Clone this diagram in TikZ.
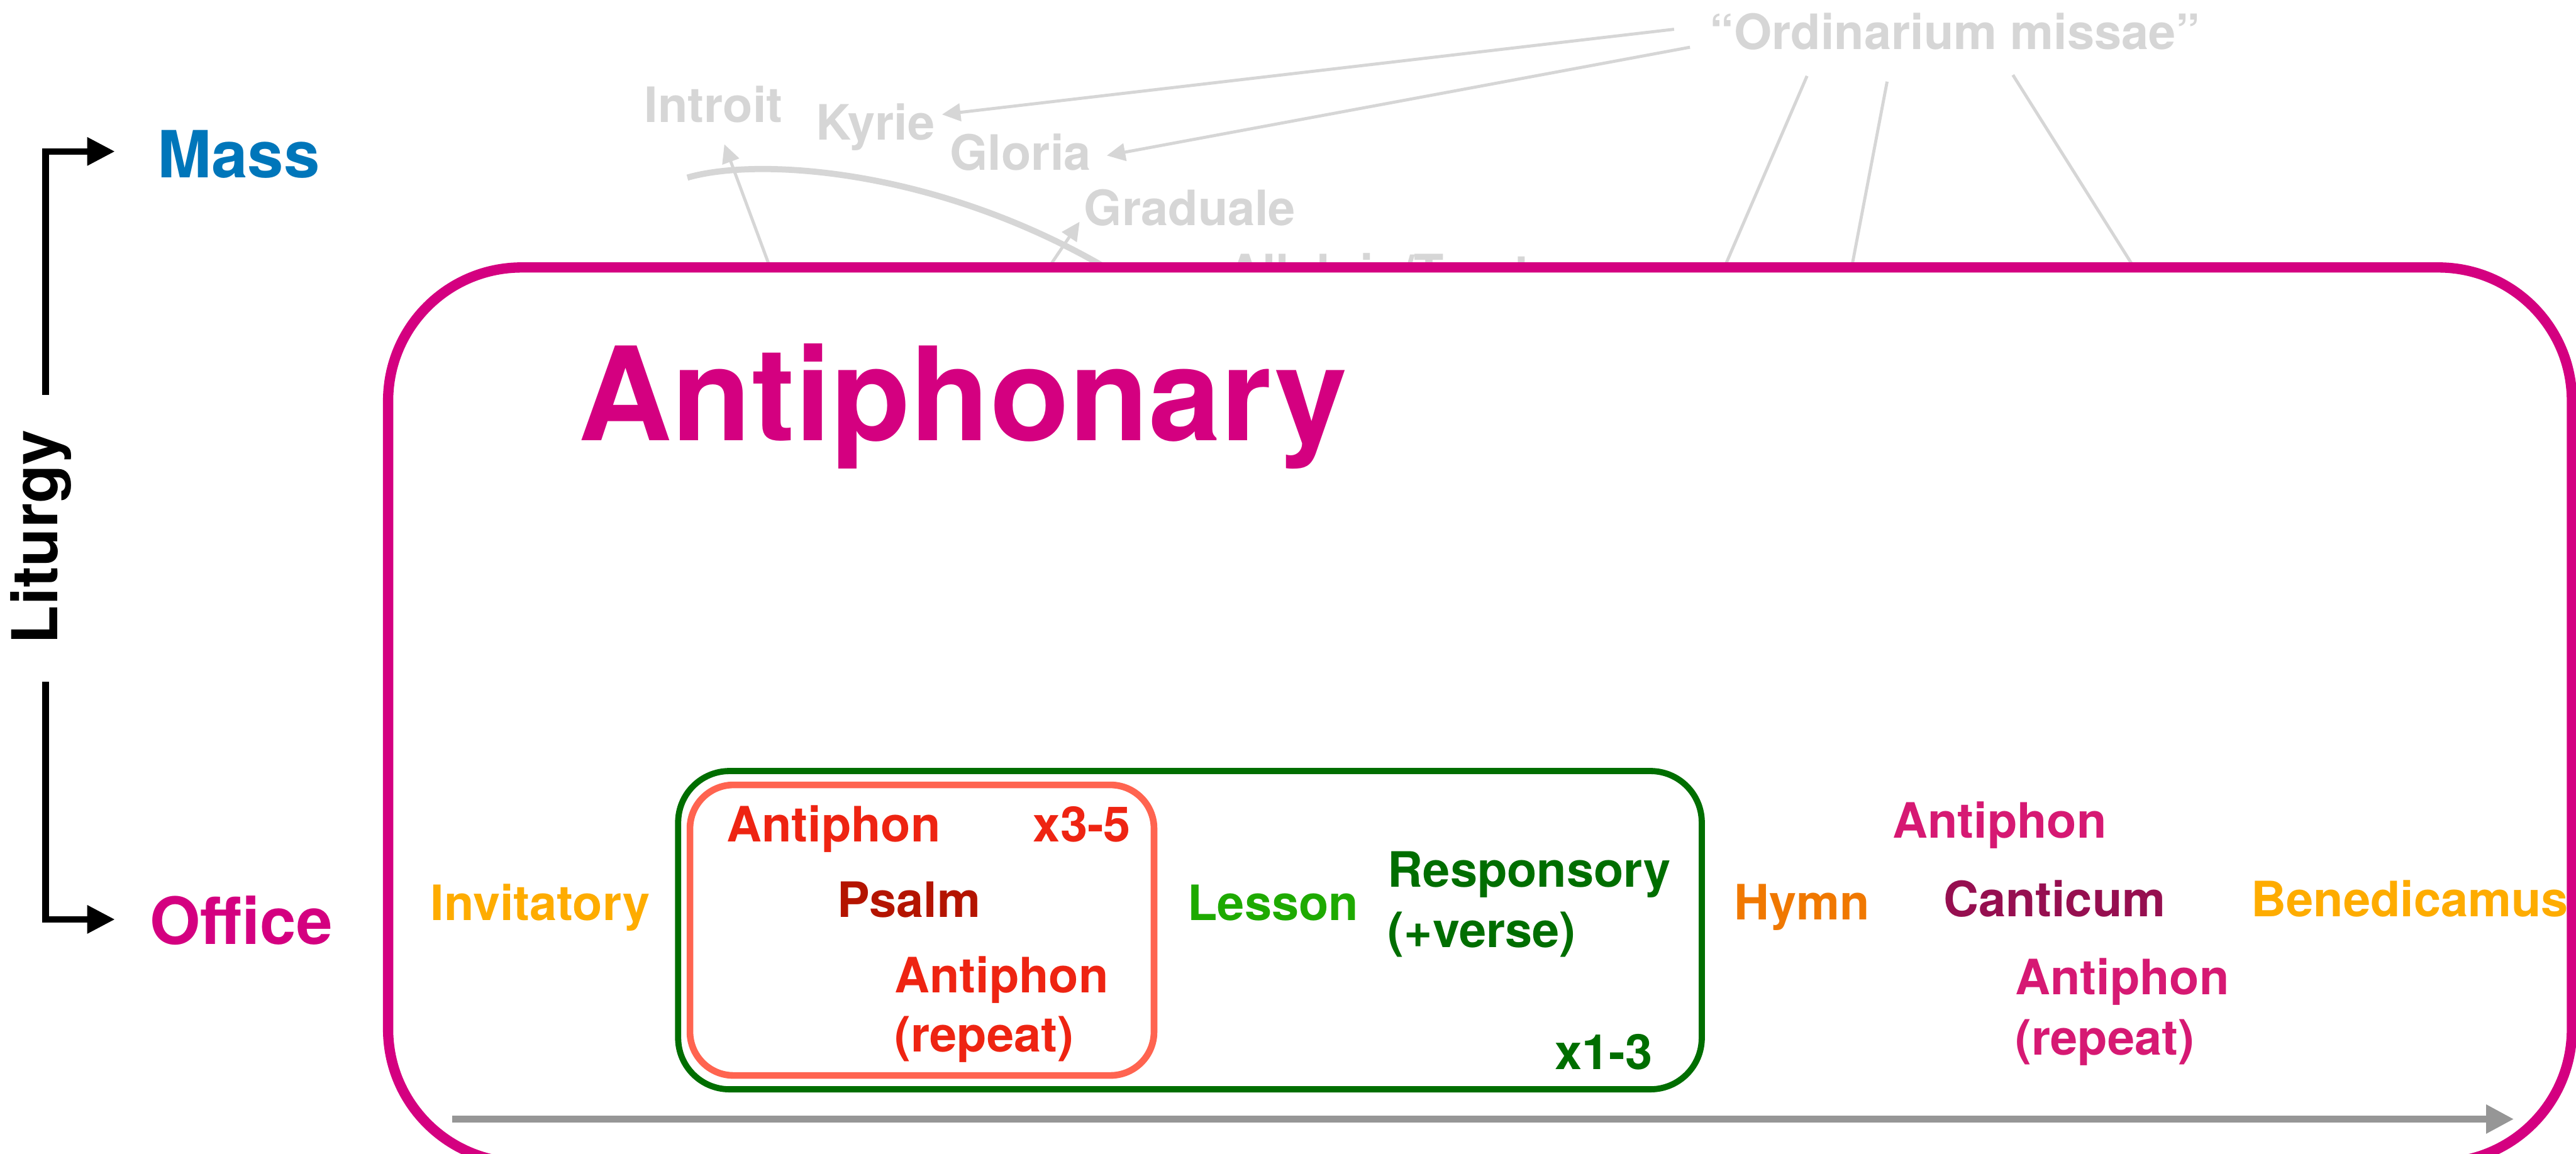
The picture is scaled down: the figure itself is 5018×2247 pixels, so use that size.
\documentclass[tikz,border=0pt]{standalone}
\usepackage{fontspec}
\setmainfont{TeX Gyre Heros}
\usetikzlibrary{arrows.meta}

\definecolor{antimag}{RGB}{212,0,128}
\definecolor{massblue}{RGB}{0,118,186}
\definecolor{ghost}{RGB}{214,214,214}
\definecolor{invyellow}{RGB}{254,172,0}
\definecolor{antred}{RGB}{238,36,18}
\definecolor{psalmred}{RGB}{180,20,0}
\definecolor{coral}{RGB}{255,100,80}
\definecolor{lessongreen}{RGB}{30,170,0}
\definecolor{dkgreen}{RGB}{0,110,0}
\definecolor{hymnorange}{RGB}{240,120,0}
\definecolor{pinkant}{RGB}{214,25,115}
\definecolor{canticum}{RGB}{150,15,80}
\definecolor{timegray}{RGB}{150,150,150}

\begin{document}
\begin{tikzpicture}[x=0.01cm, y=-0.01cm,
  lbl/.style={inner sep=0pt, anchor=base west, font=\fontsize{27}{33}\selectfont\bfseries},
  biglbl/.style={inner sep=0pt, anchor=base west, font=\fontsize{36}{43}\selectfont\bfseries},
  greylbl/.style={lbl, text=ghost},
  greyline/.style={draw=ghost, line width=1.7pt},
  greyarrow/.style={greyline, -{Triangle[length=0.36cm, width=0.34cm]}},
  blackarrow/.style={draw=black, line width=0.13cm, -{Triangle[length=0.54cm, width=0.52cm]}},
  timearrow/.style={draw=timegray, line width=0.14cm, -{Triangle[length=0.54cm, width=0.53cm]}}
]
\useasboundingbox (0,0) rectangle (5018,2247);
\fill[white] (0,0) rectangle (5018,2247);

% ---- Mass items (faded, partly hidden by the antiphonary panel) ----
\node[greylbl] (introit)    at (1255,238) {Introit};
\node[greylbl] (kyrie)      at (1589,273) {Kyrie};
\node[greylbl] (gloria)     at (1850,331) {Gloria};
\node[greylbl] (graduale)   at (2111,439) {Graduale};
\node[greylbl] (alleluia)   at (2390,564) {Alleluia/Tract};
\node[greylbl] (ordinarium) at (3330,96)  {“Ordinarium missae”};

\coordinate (ordK) at (3261,57);
\coordinate (kyrieTip) at (1835,223);
\coordinate (ordG) at (3292,92);
\coordinate (gloriaTip) at (2156,303);
\draw[greyarrow] (ordK) -- (kyrieTip);
\draw[greyarrow] (ordG) -- (gloriaTip);

\coordinate (ordA) at (3520,148);  \coordinate (credoIn)   at (3359,521);
\coordinate (ordB) at (3676,159);  \coordinate (sanctusIn) at (3607,521);
\coordinate (ordC) at (3921,146);  \coordinate (agnusIn)   at (4157,521);
\draw[greyline] (ordA) -- (credoIn);
\draw[greyline] (ordB) -- (sanctusIn);
\draw[greyline] (ordC) -- (agnusIn);

\coordinate (introitFrom) at (1500,521);
\coordinate (introitTip)  at (1411,281);
\draw[greyarrow] (introitFrom) -- (introitTip);
\coordinate (gradFrom) at (2043,521);
\coordinate (gradTip)  at (2103,432);
\draw[greyarrow] (gradFrom) -- (gradTip);

\coordinate (arcStart) at (1339,346);
\coordinate (arcEnd)   at (2160,525);
\draw[draw=ghost, line width=3.4pt] (arcStart) .. controls (1480,305) and (1830,330) .. (arcEnd);

% ---- Antiphonary panel ----
\draw[draw=antimag, fill=white, line width=0.2cm, rounded corners=2.6cm]
  (756,521) rectangle (5010,2265);
\node[inner sep=0pt, anchor=base west, font=\fontsize{72}{86}\selectfont\bfseries, text=antimag]
  (antiphonary) at (1126,858) {Antiphonary};

% ---- Liturgy axis ----
\node[inner sep=0pt, anchor=base, rotate=90, font=\fontsize{35}{42}\selectfont\bfseries]
  (liturgy) at (112,1046) {Liturgy};
\node[biglbl, text=massblue] (mass)   at (306,346)  {Mass};
\node[biglbl, text=antimag]  (office) at (291,1840) {Office};
\coordinate (litTop) at (89,769);
\coordinate (massIn) at (224,295);
\coordinate (litBot) at (89,1328);
\coordinate (officeIn) at (224,1791);
\draw[blackarrow] (litTop) |- (massIn);
\draw[blackarrow] (litBot) |- (officeIn);

% ---- Office hour sequence ----
\draw[draw=dkgreen, line width=0.12cm, rounded corners=1cm] (1321,1502) rectangle (3315,2122);
\draw[draw=coral, line width=0.13cm, rounded corners=0.85cm] (1344,1529) rectangle (2248,2095);

\node[lbl, text=invyellow]   (invitatory) at (838,1793)  {Invitatory};
\node[lbl, text=antred]      (antA)       at (1415,1640) {Antiphon};
\node[lbl, text=antred]      (rep35)      at (2012,1640) {x3-5};
\node[lbl, text=psalmred]    (psalm)      at (1630,1787) {Psalm};
\node[lbl, text=antred]      (antB)       at (1742,1934) {Antiphon};
\node[lbl, text=antred]      (antBrep)    at (1742,2049) {(repeat)};
\node[lbl, text=lessongreen] (lesson)     at (2313,1793) {Lesson};
\node[lbl, text=dkgreen]     (resp)       at (2703,1728) {Responsory};
\node[lbl, text=dkgreen]     (respverse)  at (2703,1845) {(+verse)};
\node[lbl, text=dkgreen]     (rep13)      at (3028,2083) {x1-3};
\node[lbl, text=hymnorange]  (hymn)       at (3377,1792) {Hymn};
\node[lbl, text=pinkant]     (antC)       at (3686,1633) {Antiphon};
\node[lbl, text=canticum]    (cant)       at (3785,1786) {Canticum};
\node[lbl, text=pinkant]     (antD)       at (3925,1937) {Antiphon};
\node[lbl, text=pinkant]     (antDrep)    at (3925,2055) {(repeat)};
\node[lbl, text=invyellow]   (bened)      at (4385,1786) {Benedicamus};

\coordinate (timeStart) at (881,2180);
\coordinate (timeEnd)   at (4897,2180);
\draw[timearrow] (timeStart) -- (timeEnd);
\end{tikzpicture}
\end{document}
